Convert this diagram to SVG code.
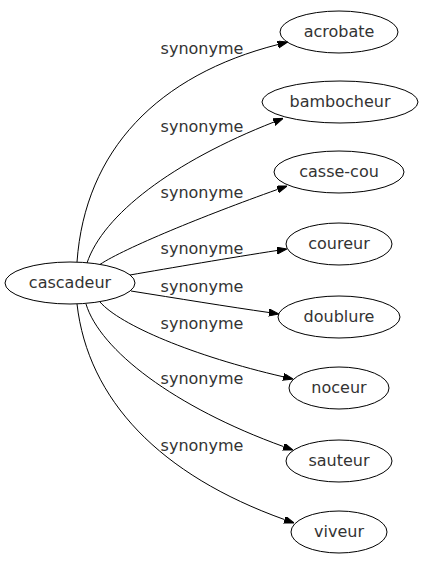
<svg xmlns="http://www.w3.org/2000/svg" width="423" height="563" viewBox="0 0 423 563">
<style>
  .node ellipse { fill: none; stroke: #000; stroke-width: 1; }
  text { font-family: "DejaVu Sans", "Liberation Sans", sans-serif; font-size: 16px; fill: #333; text-anchor: middle; }
  .edge { fill: none; stroke: #000; stroke-width: 1; marker-end: url(#arrow); }
</style>
<defs>
  <marker id="arrow" markerUnits="userSpaceOnUse" markerWidth="10" markerHeight="8" refX="0" refY="3.5" orient="auto">
    <path d="M0,0 L10,3.5 L0,7 z" fill="#000" stroke="#000" stroke-width="1"/>
  </marker>
</defs>
<rect width="423" height="563" fill="#fff"/>
<g id="connectors">
  <path class="edge" d="M77,262 C85,150 158,75 278,44.5"/>
  <path class="edge" d="M87,263 C103,215 172,162 274,122"/>
  <path class="edge" d="M100,264.4 C125,248 203,216 277.6,189.4"/>
  <path class="edge" d="M130,275 C170,268 232,257.5 277,250.5"/>
  <path class="edge" d="M131,291 C175,298 230,307 269,312.5"/>
  <path class="edge" d="M100,302 C120,325 193,356 283.3,376.8"/>
  <path class="edge" d="M86,304 C100,350 174,407 283.6,446.6"/>
  <path class="edge" d="M77,304 C88,400 160,475 284.6,519.6"/>
  <text x="202" y="54">synonyme</text>
  <text x="202" y="132">synonyme</text>
  <text x="202" y="198">synonyme</text>
  <text x="202" y="254">synonyme</text>
  <text x="202" y="292">synonyme</text>
  <text x="202" y="329">synonyme</text>
  <text x="202" y="384">synonyme</text>
  <text x="202" y="451">synonyme</text>
</g>
<g id="cascadeur" class="node"><ellipse cx="70" cy="283" rx="65" ry="21"/><text x="70" y="288">cascadeur</text></g>
<g id="acrobate" class="node"><ellipse cx="339" cy="32" rx="59" ry="21"/><text x="339" y="37">acrobate</text></g>
<g id="bambocheur" class="node"><ellipse cx="340" cy="102" rx="78" ry="21"/><text x="340" y="107">bambocheur</text></g>
<g id="casse-cou" class="node"><ellipse cx="339" cy="172" rx="65" ry="21"/><text x="339" y="177">casse-cou</text></g>
<g id="coureur" class="node"><ellipse cx="339" cy="244" rx="53" ry="21"/><text x="339" y="249">coureur</text></g>
<g id="doublure" class="node"><ellipse cx="339" cy="317" rx="61" ry="21"/><text x="339" y="322">doublure</text></g>
<g id="noceur" class="node"><ellipse cx="339" cy="388" rx="50" ry="21"/><text x="339" y="393">noceur</text></g>
<g id="sauteur" class="node"><ellipse cx="339" cy="461" rx="53" ry="21"/><text x="339" y="466">sauteur</text></g>
<g id="viveur" class="node"><ellipse cx="339" cy="532" rx="48" ry="21"/><text x="339" y="537">viveur</text></g>
</svg>
